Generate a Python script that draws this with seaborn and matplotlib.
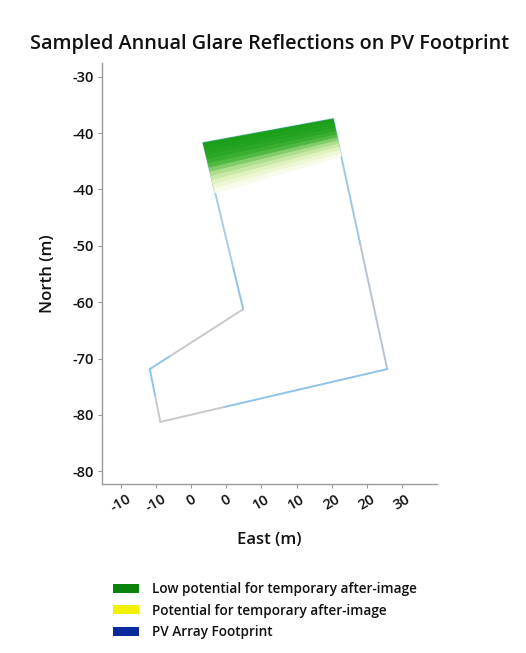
import numpy as np
import pandas as pd
import seaborn as sns
import matplotlib
matplotlib.use("Agg")
import matplotlib.pyplot as plt
from matplotlib.patches import Patch
from matplotlib.colors import LinearSegmentedColormap

# ---------------- data ----------------
# PV footprint vertices (East, North) in metres, in drawing order
footprint_east = [1.7, 20.2, 27.9, -4.4, -5.9, 7.4]
footprint_north = [-39.4, -36.0, -71.5, -79.0, -71.5, -63.0]
# colour of each edge: (first colour, second colour, fraction where colour changes)
edge_colors = [
    ("#8ec3ea", "#8ec3ea", 1.0),   # top
    ("#9fc6e6", "#b9c3d2", 0.5),   # right
    ("#8ec3ea", "#c9c9cc", 0.72),  # bottom
    ("#c9c9cc", "#8ec3ea", 0.5),   # left short
    ("#8ec3ea", "#c9c9cc", 0.22),  # notch diagonal
    ("#8ec3ea", "#a8cbe6", 0.25),  # notch up-edge
]
# glare band depth along west and east edges (m of north extent)
glare_depth_west = 7.1
glare_depth_east = 5.3
# relative glare intensity for successive bands from the top edge downwards
glare_intensity = [1.0, 0.98, 0.95, 0.9, 0.82, 0.72, 0.6, 0.48, 0.37, 0.27, 0.18, 0.09]

x_ticks = [-10, -5, 0, 5, 10, 15, 20, 25, 30]
x_tick_labels = ["-10", "-10", "0", "0", "10", "10", "20", "20", "30"]
y_ticks = [-30, -38, -46, -54, -62, -70, -78, -86]
y_tick_labels = ["-30", "-40", "-40", "-50", "-60", "-70", "-80", "-80"]

legend_labels = ["Low potential for temporary after-image",
                 "Potential for temporary after-image",
                 "PV Array Footprint"]
legend_colors = ["#0b820b", "#f2f200", "#0a2a9c"]

# ---------------- figure ----------------
sns.set_theme(style="ticks")
plt.rcParams["font.family"] = ["Open Sans", "DejaVu Sans"]
plt.rcParams["font.weight"] = "semibold"
plt.rcParams["text.color"] = "#111111"
plt.rcParams["axes.labelcolor"] = "#111111"
plt.rcParams["xtick.color"] = "#999999"
plt.rcParams["ytick.color"] = "#999999"
plt.rcParams["xtick.labelcolor"] = "#111111"
plt.rcParams["ytick.labelcolor"] = "#111111"

fig = plt.figure(figsize=(5.26, 6.53), dpi=100)
ax = fig.add_axes([0.194, 0.259, 0.637, 0.645])

# glare gradient bands
cmap = LinearSegmentedColormap.from_list(
    "glare", ["#ffffff", "#e6f4c4", "#a8dd88", "#44b43a", "#1b9f1b"])
TL = np.array([footprint_east[0], footprint_north[0]])
TR = np.array([footprint_east[1], footprint_north[1]])
R = np.array([footprint_east[2], footprint_north[2]])
N = np.array([footprint_east[5], footprint_north[5]])
dir_w = (N - TL) / (TL[1] - N[1])
dir_e = (R - TR) / (TR[1] - R[1])
nb = len(glare_intensity)
for i, g in enumerate(glare_intensity):
    t0, t1 = i / nb, (i + 1) / nb
    pw0 = TL + dir_w * glare_depth_west * t0
    pw1 = TL + dir_w * glare_depth_west * t1
    pe0 = TR + dir_e * glare_depth_east * t0
    pe1 = TR + dir_e * glare_depth_east * t1
    xs = [pw0[0], pe0[0], pe1[0], pw1[0]]
    ys = [pw0[1], pe0[1], pe1[1], pw1[1]]
    ax.fill(xs, ys, color=cmap(g), lw=0.6, edgecolor=cmap(g), zorder=2)

# footprint outline
n = len(footprint_east)
for i in range(n):
    x0, y0 = footprint_east[i], footprint_north[i]
    x1, y1 = footprint_east[(i + 1) % n], footprint_north[(i + 1) % n]
    ca, cb, f = edge_colors[i]
    xm, ym = x0 + (x1 - x0) * f, y0 + (y1 - y0) * f
    seg = pd.DataFrame({"x": [x0, xm], "y": [y0, ym]})
    sns.lineplot(data=seg, x="x", y="y", sort=False, color=ca, lw=1.4, ax=ax, zorder=1)
    if f < 1.0:
        seg2 = pd.DataFrame({"x": [xm, x1], "y": [ym, y1]})
        sns.lineplot(data=seg2, x="x", y="y", sort=False, color=cb, lw=1.4, ax=ax, zorder=1)

ax.set_xlim(-12.7, 35.0)
ax.set_ylim(-87.8, -28.0)
ax.set_xticks(x_ticks)
ax.set_xticklabels(x_tick_labels, rotation=30, ha="center", fontsize=10.5, fontweight="semibold")
ax.set_yticks(y_ticks)
ax.set_yticklabels(y_tick_labels, fontsize=10.5, fontweight="semibold")
ax.tick_params(length=3, width=0.8, pad=3)
for s in ["top", "right"]:
    ax.spines[s].set_visible(False)
for s in ["left", "bottom"]:
    ax.spines[s].set_color("#9a9a9a")
    ax.spines[s].set_linewidth(1.0)
ax.set_xlabel("East (m)", fontsize=12, labelpad=12, fontweight="semibold")
ax.set_ylabel("North (m)", fontsize=12, labelpad=12, fontweight="semibold")

fig.suptitle("Sampled Annual Glare Reflections on PV Footprint", fontsize=14.3,
             x=0.513, y=0.948, fontweight="semibold")

handles = [Patch(facecolor=c, edgecolor="none") for c in legend_colors]
fig.legend(handles, legend_labels, loc="upper left", bbox_to_anchor=(0.204, 0.117),
           frameon=False, handlelength=1.9, handleheight=0.6,
           prop={"size": 9.8, "weight": "semibold"},
           handletextpad=0.95, labelspacing=0.55, borderaxespad=0)

fig.savefig("out.png", dpi=100)
